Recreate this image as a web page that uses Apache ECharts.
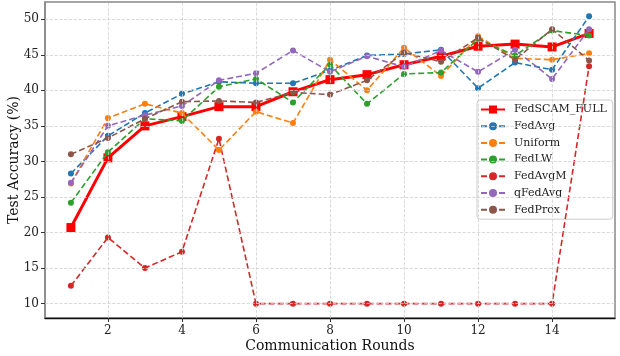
<!DOCTYPE html>
<html><head><meta charset="utf-8">
<script src="https://cdn.jsdelivr.net/npm/echarts@6/dist/echarts.min.js"></script>
<style>html,body{margin:0;padding:0;background:#fff}#c{width:620px;height:356px}</style>
</head><body><div id="c"></div>
<script>
const rounds = [1,2,3,4,5,6,7,8,9,10,11,12,13,14,15];
const xTicks = [2,4,6,8,10,12,14];
const yTicks = [10,15,20,25,30,35,40,45,50];
const fedSCAM = [20.7,30.5,35.0,36.3,37.7,37.7,39.8,41.5,42.2,43.6,44.8,46.2,46.5,46.1,48.0];
const fedAvg  = [28.3,33.6,36.8,39.5,41.2,41.0,41.0,42.8,44.9,45.1,45.7,40.3,43.9,42.9,50.4];
const uniform = [26.9,36.1,38.1,36.8,31.6,37.0,35.4,44.3,40.0,46.0,42.0,47.6,44.5,44.3,45.2];
const fedLW   = [24.2,31.3,36.0,35.7,40.5,41.6,38.3,43.6,38.1,42.3,42.5,47.2,44.9,48.4,47.7];
const fedAvgM = [12.5,19.3,15.0,17.3,33.2,10,10,10,10,10,10,10,10,10,43.4];
const qFedAvg = [27.0,35.0,36.5,37.8,41.4,42.4,45.6,42.6,44.8,43.3,45.6,42.6,45.7,41.6,48.6];
const fedProx = [31.0,33.3,36.0,38.4,38.5,38.3,39.7,39.4,41.4,45.3,44.0,47.4,44.3,48.6,44.2];

const names = ['FedSCAM_FULL','FedAvg','Uniform','FedLW','FedAvgM','qFedAvg','FedProx'];
const values = [fedSCAM,fedAvg,uniform,fedLW,fedAvgM,qFedAvg,fedProx];
const colors = ['#ff0000','#1f77b4','#ff7f0e','#2ca02c','#d62728','#9467bd','#8c564b'];
const font = 'DejaVu Serif';

const series = names.map((n,k)=>{
  const main = k===0;
  return {
    name:n, type:'line', z: main?3:4,
    data: rounds.map((r,i)=>[r, values[k][i]]),
    symbol: main?'rect':'circle',
    symbolSize: main?9:6,
    showSymbol:true,
    itemStyle:{color:colors[k], borderWidth:0},
    lineStyle:{color:colors[k], width: main?3:1.6, type: main?'solid':[6,3]},
    emphasis:{disabled:true}, animation:false
  };
});
const gl = {type:'dashed', color:'#d0d0d0', width:0.8};
series.push({
  type:'line', data:[], z:1, silent:true, animation:false,
  markLine:{silent:true, symbol:'none', label:{show:false}, lineStyle:gl, animation:false,
    data: xTicks.map(v=>({xAxis:v})).concat(yTicks.map(v=>({yAxis:v})))}
});

const chart = echarts.init(document.getElementById('c'), null, {renderer:'canvas'});
chart.setOption({
  animation:false,
  grid:{left:45, right:5, top:2, bottom:38, outerBoundsMode:'none', containLabel:false,
    show:true, borderColor:'#888', borderWidth:1.5, backgroundColor:'transparent'},
  xAxis:{type:'value', min:0.3, max:15.7,
    name:'Communication Rounds', nameLocation:'middle', nameGap:21, nameMoveOverlap:false,
    nameTextStyle:{fontFamily:font, fontSize:14, color:'#111'},
    axisLine:{show:true, lineStyle:{color:'#111', width:1.3}},
    axisTick:{show:true, customValues:xTicks, length:4, lineStyle:{color:'#333'}},
    axisLabel:{customValues:xTicks, fontFamily:font, fontSize:12, color:'#222', margin:7},
    splitLine:{show:false}},
  yAxis:{type:'value', min:7.98, max:52.42,
    name:'Test Accuracy (%)', nameLocation:'middle', nameGap:24, nameMoveOverlap:false,
    nameTextStyle:{fontFamily:font, fontSize:14, color:'#111'},
    axisLine:{show:true, lineStyle:{color:'#888', width:1.5}},
    axisTick:{show:true, customValues:yTicks, length:4, lineStyle:{color:'#333'}},
    axisLabel:{customValues:yTicks, fontFamily:font, fontSize:12, color:'#222', margin:6},
    splitLine:{show:false}},
  legend:{data:names, orient:'vertical', left:477, top:100,
    padding:[4,6,4,3], itemWidth:24, itemHeight:10, itemGap:5.7,
    backgroundColor:'rgba(255,255,255,0.8)', borderColor:'#ccc', borderWidth:1, borderRadius:3,
    textStyle:{fontFamily:font, fontSize:11, color:'#222', padding:[0,0,0,4]}},
  series
});
</script></body></html>
